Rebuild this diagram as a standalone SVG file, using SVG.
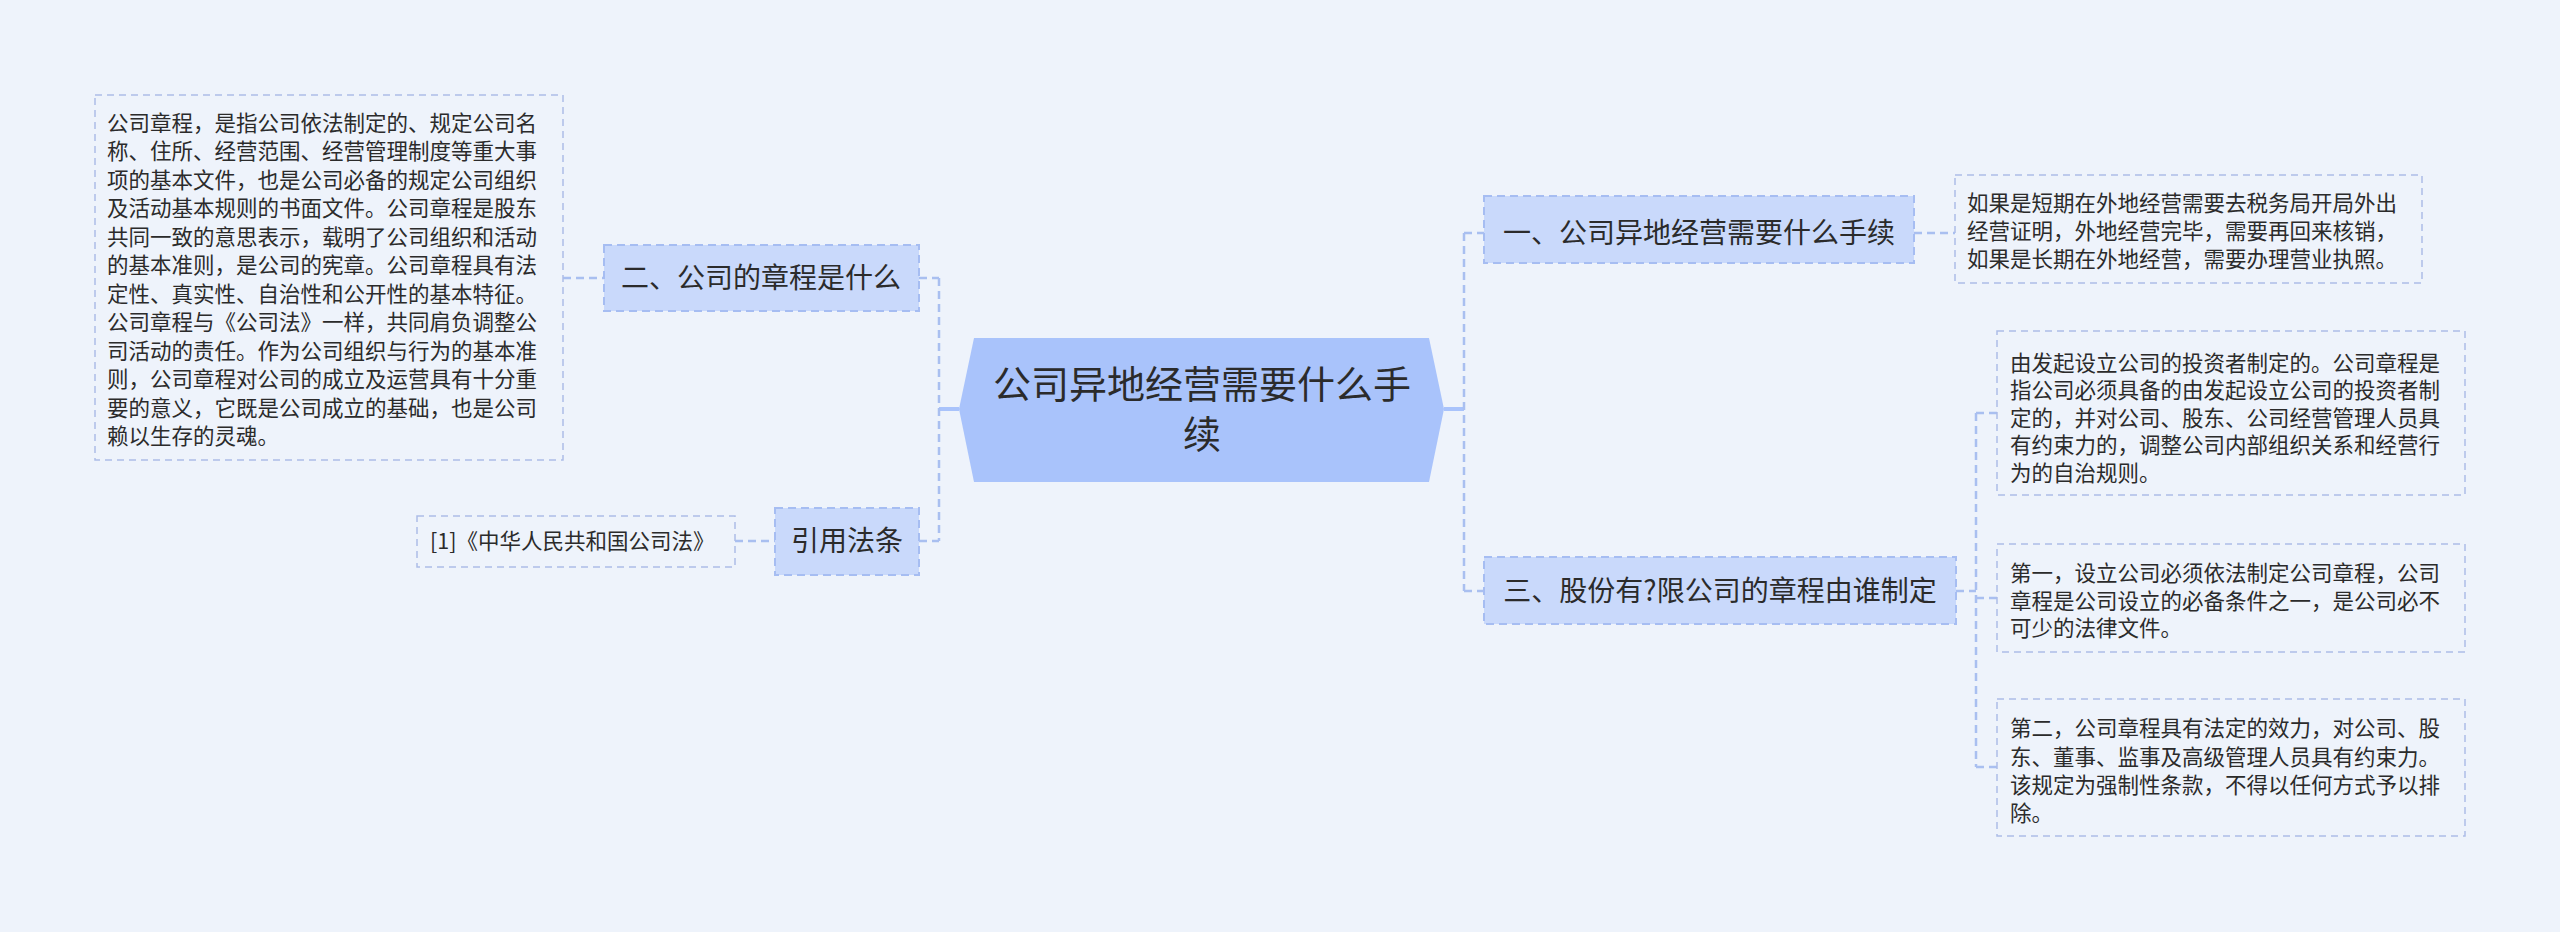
<svg xmlns="http://www.w3.org/2000/svg" width="2560" height="932" viewBox="0 0 2560 932">
<style>
.bg{fill:#eef3fb}
.leaf{fill:#eef3fb;stroke:#adbde8;stroke-width:1.5;stroke-dasharray:7 5}
.l1{fill:#c9d9fb;stroke:#a6bdf2;stroke-width:2;stroke-dasharray:8 5}
.root{fill:#a9c3fb}
.conn{fill:none;stroke:#a9bff0;stroke-width:2.5;stroke-dasharray:8 5}
.solid{fill:none;stroke:#a9c3fb;stroke-width:4}
text{font-family:"Noto Sans CJK SC","Noto Sans",sans-serif;fill:#2b2b2b}
.t22{font-size:21.5px}
.t28{font-size:28px}
.t38{font-size:38px}
.mid{text-anchor:middle}
</style>
<rect class="bg" x="0" y="0" width="2560" height="932"/>
<g id="connectors">
<path class="solid" d="M959 409H939"/>
<path class="conn" d="M939 278V541M919 278H939M919 541H939"/>
<path class="conn" d="M563 278H604"/>
<path class="conn" d="M735 541H775"/>
<path class="solid" d="M1444 409H1464"/>
<path class="conn" d="M1464 233V591M1464 233H1484M1464 591H1484"/>
<path class="conn" d="M1914 233H1955"/>
<path class="conn" d="M1956 591H1976M1976 413V767M1976 413H1997M1976 598H1997M1976 767H1997"/>
</g>
<g id="root">
<polygon class="root" points="974,338 1429,338 1444,409 1429,482 974,482 959,409"/>
<text class="t38 mid" x="1202" y="398">公司异地经营需要什么手</text>
<text class="t38 mid" x="1202" y="448">续</text>
</g>
<g id="n1">
<rect class="l1" x="1484" y="196" width="430" height="67"/>
<text class="t28 mid" x="1699" y="243">一、公司异地经营需要什么手续</text>
</g>
<g id="n1a">
<rect class="leaf" x="1955" y="175" width="467" height="108"/>
<text class="t22" x="1967" y="211">如果是短期在外地经营需要去税务局开局外出</text>
<text class="t22" x="1967" y="239">经营证明，外地经营完毕，需要再回来核销，</text>
<text class="t22" x="1967" y="267">如果是长期在外地经营，需要办理营业执照。</text>
</g>
<g id="n3">
<rect class="l1" x="1484" y="557" width="472" height="67"/>
<text class="t28 mid" x="1720" y="601">三、股份有?限公司的章程由谁制定</text>
</g>
<g id="n3a">
<rect class="leaf" x="1997" y="331" width="468" height="164"/>
<text class="t22" x="2010" y="371">由发起设立公司的投资者制定的。公司章程是</text>
<text class="t22" x="2010" y="398">指公司必须具备的由发起设立公司的投资者制</text>
<text class="t22" x="2010" y="426">定的，并对公司、股东、公司经营管理人员具</text>
<text class="t22" x="2010" y="453">有约束力的，调整公司内部组织关系和经营行</text>
<text class="t22" x="2010" y="481">为的自治规则。</text>
</g>
<g id="n3b">
<rect class="leaf" x="1997" y="544" width="468" height="108"/>
<text class="t22" x="2010" y="581">第一，设立公司必须依法制定公司章程，公司</text>
<text class="t22" x="2010" y="609">章程是公司设立的必备条件之一，是公司必不</text>
<text class="t22" x="2010" y="636">可少的法律文件。</text>
</g>
<g id="n3c">
<rect class="leaf" x="1997" y="699" width="468" height="137"/>
<text class="t22" x="2010" y="736">第二，公司章程具有法定的效力，对公司、股</text>
<text class="t22" x="2010" y="765">东、董事、监事及高级管理人员具有约束力。</text>
<text class="t22" x="2010" y="793">该规定为强制性条款，不得以任何方式予以排</text>
<text class="t22" x="2010" y="821">除。</text>
</g>
<g id="n2">
<rect class="l1" x="604" y="245" width="315" height="66"/>
<text class="t28 mid" x="761" y="288">二、公司的章程是什么</text>
</g>
<g id="n2a">
<rect class="leaf" x="95" y="95" width="468" height="365"/>
<text class="t22" x="107" y="131">公司章程，是指公司依法制定的、规定公司名</text>
<text class="t22" x="107" y="159">称、住所、经营范围、经营管理制度等重大事</text>
<text class="t22" x="107" y="188">项的基本文件，也是公司必备的规定公司组织</text>
<text class="t22" x="107" y="216">及活动基本规则的书面文件。公司章程是股东</text>
<text class="t22" x="107" y="245">共同一致的意思表示，载明了公司组织和活动</text>
<text class="t22" x="107" y="273">的基本准则，是公司的宪章。公司章程具有法</text>
<text class="t22" x="107" y="302">定性、真实性、自治性和公开性的基本特征。</text>
<text class="t22" x="107" y="330">公司章程与《公司法》一样，共同肩负调整公</text>
<text class="t22" x="107" y="359">司活动的责任。作为公司组织与行为的基本准</text>
<text class="t22" x="107" y="387">则，公司章程对公司的成立及运营具有十分重</text>
<text class="t22" x="107" y="416">要的意义，它既是公司成立的基础，也是公司</text>
<text class="t22" x="107" y="444">赖以生存的灵魂。</text>
</g>
<g id="n4">
<rect class="l1" x="775" y="508" width="144" height="67"/>
<text class="t28 mid" x="847" y="551">引用法条</text>
</g>
<g id="n4a">
<rect class="leaf" x="417" y="516" width="318" height="51"/>
<text class="t22" x="430" y="549">[1]《中华人民共和国公司法》</text>
</g>
</svg>
